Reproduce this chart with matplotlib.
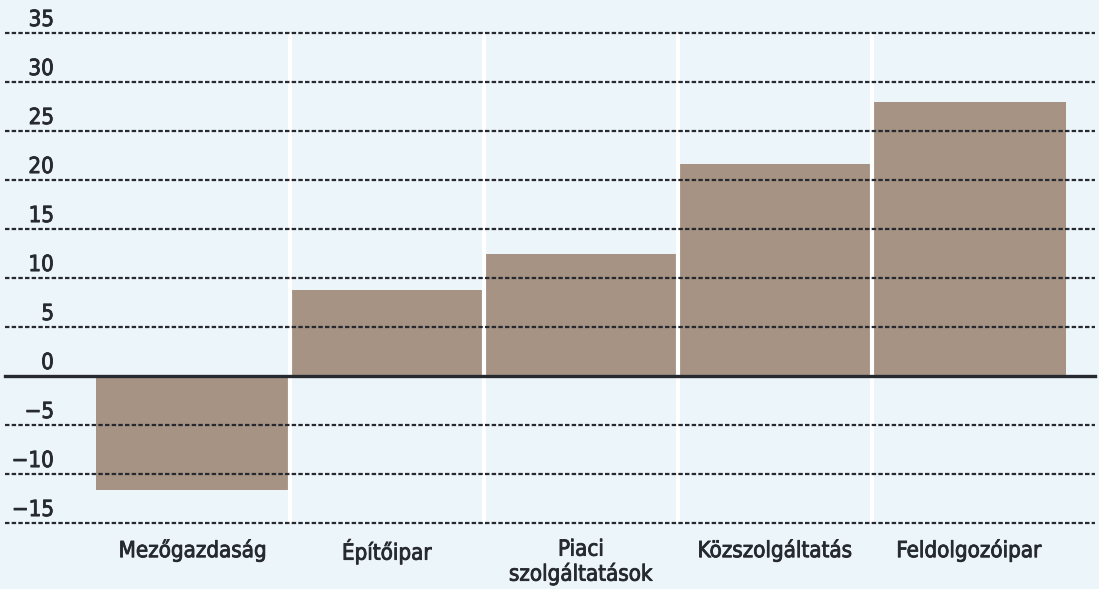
import matplotlib
matplotlib.use("Agg")
import matplotlib.pyplot as plt
import matplotlib.patheffects as pe
from matplotlib.transforms import blended_transform_factory

categories = ["Mezőgazdaság", "Építőipar", "Piaci\nszolgáltatások", "Közszolgáltatás", "Feldolgozóipar"]
values = [-11.6, 8.8, 12.5, 21.6, 28.0]
yticks = [-15, -10, -5, 0, 5, 10, 15, 20, 25, 30, 35]

bg = "#ECF5FA"
bar_color = "#A69383"
dark = "#262A30"

plt.rcParams['font.family'] = ['DejaVu Sans']
fig = plt.figure(figsize=(10.99, 5.89), dpi=100, facecolor=bg)
ax = fig.add_axes([5/1099, 66/589, 1090/1099, 490/589], facecolor=bg)

x = list(range(len(categories)))
ax.bar(x, values, width=1.0, color=bar_color, edgecolor="none", zorder=2)

# white separators between categories
for b in [i + 0.5 for i in x[:-1]]:
    ax.axvline(b, color="white", lw=3, zorder=3)

for t in yticks:
    if t == 0:
        ax.axhline(t, color=dark, lw=2.4, zorder=4, clip_on=False)
    else:
        ax.axhline(t, color=dark, lw=1.6, ls=(0, (2.0, 1.0)), zorder=4, clip_on=False)

stroke = [pe.withStroke(linewidth=0.6, foreground=dark)]
trans = blended_transform_factory(ax.transAxes, ax.transData)
for t in yticks:
    lab = f"{t}".replace("-", "\u2212")
    ax.text(49/1090, t + 0.3, lab, transform=trans, ha="right", va="bottom",
            fontsize=16, color=dark, fontstretch="condensed", zorder=5,
            path_effects=stroke)

ax.set_xlim((5 - 193) / 194, (1095 - 193) / 194)
ax.set_ylim(-15, 35)
ax.set_yticks([])
ax.set_xticks(x)
ax.set_xticklabels(categories, fontsize=16, color=dark, fontstretch="condensed",
                   linespacing=1.2)
for lbl in ax.get_xticklabels():
    lbl.set_path_effects(stroke)
ax.tick_params(axis="x", length=0, pad=12)
for s in ax.spines.values():
    s.set_visible(False)

fig.savefig("out.png", dpi=100, facecolor=bg)
